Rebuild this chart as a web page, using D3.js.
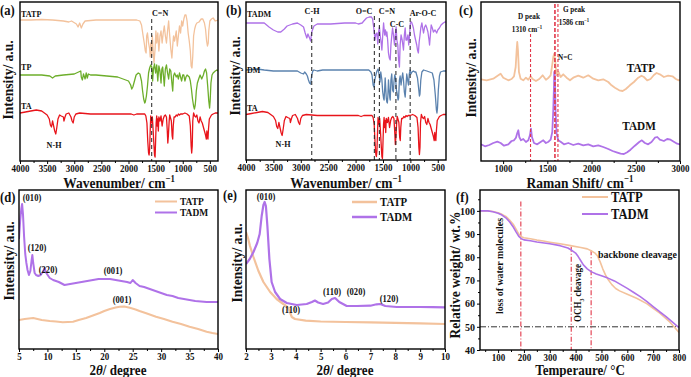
<!DOCTYPE html>
<html><head><meta charset="utf-8">
<script src="https://cdn.jsdelivr.net/npm/d3@7"></script>
<style>
body{margin:0;background:#fff}
svg{display:block}
text{font-family:"Liberation Serif","Times New Roman",serif;font-weight:bold}
</style></head>
<body><svg id="chart" width="691" height="377"></svg>
<script>
// ---------------- DATA ----------------
const ftirTicks = [4000,3500,3000,2500,2000,1500,1000,500];
const ftirMinor = [3750,3250,2750,2250,1750,1250,750];
const ramanTicks = [1000,1500,2000,2500,3000];
const ramanMinor = [1250,1750,2250,2750];
const xrdWideTicks = [5,10,15,20,25,30,35,40];
const xrdWideMinor = [7.5,12.5,17.5,22.5,27.5,32.5,37.5];
const xrdLowTicks = [2,3,4,5,6,7,8,9,10];
const xrdLowMinor = [2.5,3.5,4.5,5.5,6.5,7.5,8.5,9.5];
const tgaXTicks = [100,200,300,400,500,600,700,800];
const tgaXMinor = [50,150,250,350,450,550,650,750];
const tgaYTicks = [40,50,60,70,80,90,100];
const tgaYMinor = [45,55,65,75,85,95,105];

// FTIR (a): [wavenumber, intensity a.u.]
const ftirTATP = [[4000,141],[3800,141],[3600,141.5],[3400,141],[3200,140],[3100,139],[3050,140],[2960,137],[2930,134],[2900,138],[2870,133],[2840,137],[2800,140],[2600,141],[2400,141],[2200,141],[2000,141],[1850,141],[1790,140],[1760,136],[1730,125],[1710,118],[1690,110],[1675,108],[1665,125],[1650,128],[1630,118],[1610,112],[1600,104],[1590,118],[1575,105],[1560,125],[1545,110],[1530,98],[1510,112],[1495,130],[1480,118],[1460,128],[1440,110],[1420,125],[1400,130],[1380,118],[1360,128],[1340,135],[1320,125],[1300,118],[1280,130],[1260,140],[1240,125],[1220,112],[1200,103],[1185,115],[1170,125],[1150,120],[1120,130],[1100,115],[1080,125],[1060,135],[1040,128],[1020,140],[1000,135],[980,142],[960,146],[940,146],[920,140],[900,128],[880,120],[860,110],[845,95],[830,93],[815,105],[800,125],[780,132],[760,136],[740,138],[700,139],[660,142],[630,142],[600,138],[580,132],[560,120],[545,115],[530,118],[520,130],[500,140],[470,142],[440,143],[400,140],[350,141]];
const ftirTP = [[4000,86],[3800,86],[3600,86],[3450,85],[3400,83],[3350,85],[3200,86],[3000,87],[2920,89],[2880,90],[2870,84],[2850,81],[2830,87],[2800,82],[2780,88],[2760,83],[2740,87],[2700,86],[2600,86],[2400,85],[2200,84],[2100,82],[2000,80],[1960,76],[1940,72],[1920,74],[1900,78],[1860,86],[1820,88],[1790,87],[1760,80],[1740,70],[1720,62],[1700,58],[1690,59],[1670,65],[1650,75],[1630,88],[1610,93],[1590,96],[1570,94],[1555,80],[1540,92],[1520,97],[1500,88],[1480,96],[1460,80],[1440,95],[1420,90],[1400,78],[1385,92],[1370,94],[1355,85],[1340,75],[1320,92],[1300,96],[1280,88],[1260,82],[1240,92],[1220,90],[1200,78],[1185,70],[1170,85],[1150,88],[1120,84],[1100,86],[1080,82],[1060,88],[1040,84],[1020,80],[1000,86],[980,86],[960,80],[940,84],[920,86],[880,84],[860,80],[840,72],[820,62],[800,55],[785,52],[770,56],[760,62],[750,70],[730,78],[700,83],[680,86],[650,82],[620,86],[600,90],[580,92],[560,88],[540,75],[520,60],[505,53],[495,60],[480,78],[460,86],[440,88],[400,90],[370,91],[350,90]];
const ftirTA = [[4000,48],[3900,49],[3800,50],[3700,51],[3600,50],[3550,48],[3500,46],[3460,42],[3440,36],[3420,34],[3400,40],[3380,35],[3360,30],[3340,27],[3320,34],[3300,42],[3270,46],[3240,45],[3200,44],[3190,40],[3170,44],[3150,47],[3100,48],[3060,44],[3040,40],[3020,38],[3000,44],[2970,47],[2900,48],[2700,47],[2500,47],[2300,47],[2100,47],[1950,47],[1900,46],[1850,47],[1750,47],[1700,47],[1680,45],[1660,38],[1645,20],[1630,8],[1620,6],[1610,12],[1600,30],[1590,45],[1580,42],[1570,38],[1560,44],[1545,30],[1530,15],[1520,6],[1510,4],[1500,20],[1490,38],[1480,45],[1470,35],[1460,42],[1450,30],[1440,44],[1420,40],[1400,45],[1380,35],[1360,42],[1340,45],[1320,46],[1300,44],[1285,30],[1275,18],[1265,25],[1250,40],[1240,46],[1230,44],[1210,40],[1195,25],[1185,22],[1175,35],[1160,44],[1140,44],[1120,46],[1100,45],[1080,47],[1060,46],[1040,47],[1000,47],[960,48],[920,47],[880,45],[860,35],[845,15],[835,8],[825,15],[815,40],[800,48],[780,45],[760,44],[740,46],[720,40],[700,38],[680,44],[660,40],[640,38],[620,34],[600,30],[580,26],[565,22],[555,30],[545,24],[535,22],[525,32],[510,42],[490,44],[470,46],[440,47],[400,48],[350,48]];
// FTIR (b)
const ftirTADM = [[4000,137],[3800,137],[3667,137],[3580,133],[3500,130],[3420,128],[3365,128],[3300,131],[3250,134],[3150,136],[3062,137],[3000,135],[2950,133],[2920,127],[2890,122],[2870,126],[2840,122],[2820,119],[2800,128],[2760,134],[2700,136],[2457,136],[2200,137],[2000,137],[1950,136],[1880,137],[1850,139],[1800,142],[1750,143],[1710,143],[1690,141],[1675,135],[1660,128],[1645,120],[1630,126],[1610,127],[1595,116],[1580,128],[1565,133],[1550,124],[1535,118],[1520,110],[1505,125],[1489,137],[1470,125],[1455,130],[1440,124],[1429,128],[1415,120],[1400,107],[1385,102],[1368,100],[1355,115],[1340,124],[1325,132],[1308,125],[1290,115],[1275,125],[1260,133],[1247,120],[1230,115],[1215,100],[1200,93],[1187,115],[1170,125],[1150,120],[1126,110],[1110,125],[1095,132],[1080,120],[1066,120],[1045,125],[1030,115],[1015,125],[1000,137],[980,138],[960,135],[945,132],[925,125],[905,120],[884,115],[870,110],[854,107],[840,118],[824,125],[810,132],[790,137],[770,130],[760,127],[740,133],[720,135],[700,132],[680,128],[660,120],[650,115],[640,122],[620,135],[600,132],[580,128],[550,130],[520,127],[500,130],[470,132],[440,135],[400,137],[370,138],[350,138]];
const ftirDM = [[4000,90],[3800,91],[3667,90],[3500,89],[3365,89],[3200,89],[3062,89],[3000,87],[2950,86],[2930,88],[2900,86],[2880,84],[2860,80],[2840,77],[2820,76],[2800,85],[2780,89],[2760,90],[2700,89],[2600,90],[2400,90],[2200,90],[2000,90],[1850,90],[1760,90],[1720,88],[1700,85],[1680,75],[1665,73],[1650,80],[1630,85],[1610,89],[1590,91],[1570,85],[1555,78],[1540,88],[1520,80],[1505,68],[1490,62],[1480,60],[1470,70],[1460,82],[1450,72],[1440,62],[1430,58],[1420,57],[1410,65],[1400,80],[1390,72],[1375,62],[1368,60],[1355,80],[1340,86],[1325,70],[1310,68],[1300,78],[1285,85],[1270,82],[1255,70],[1240,66],[1225,60],[1215,62],[1200,80],[1187,84],[1170,75],[1155,82],[1140,87],[1126,80],[1110,68],[1095,63],[1080,75],[1066,86],[1050,80],[1035,75],[1020,86],[1005,90],[990,86],[970,88],[945,89],[920,88],[900,88],[870,82],[850,72],[835,64],[825,66],[810,80],[790,88],[760,90],[700,89],[650,88],[600,87],[570,80],[545,65],[525,50],[515,47],[505,52],[490,70],[470,84],[450,88],[400,89],[350,89]];
// Raman (c)
const ramanTATP = [[750,81.7],[814,80.7],[889,82.3],[946,85.7],[972,87.3],[1002,83.3],[1059,80.7],[1096,82],[1123,84.7],[1142,94],[1153,110.7],[1160,119],[1168,110.7],[1179,89],[1198,82.3],[1228,80.7],[1258,83.3],[1285,81.3],[1311,84.7],[1334,82],[1371,80],[1409,82],[1447,85.7],[1484,81.3],[1514,83.3],[1537,85.7],[1552,94],[1567,104],[1578,107.3],[1590,99],[1605,85.7],[1627,89],[1650,84],[1680,86.7],[1718,83.3],[1756,80.7],[1793,83.3],[1850,85.3],[1906,83.3],[1963,85.7],[2019,82.3],[2076,80.7],[2132,81.7],[2189,79],[2226,75.7],[2264,73.3],[2313,70.7],[2351,70],[2388,72],[2433,75.7],[2479,79],[2528,83.3],[2565,85.3],[2592,84],[2629,80.7],[2667,82],[2705,86],[2735,88],[2772,86.7],[2818,84],[2866,85.3],[2915,84.7],[2953,82],[2987,80.7],[3000,81.3]];
const ramanTADM = [[750,16.7],[795,14.7],[844,16],[889,18],[935,19.3],[972,18],[1010,15.3],[1059,16.7],[1096,20],[1123,20.7],[1145,23.3],[1160,28],[1172,30.7],[1183,24],[1202,20.7],[1228,22],[1258,19],[1285,20.7],[1303,25.7],[1315,32.3],[1326,24],[1349,18],[1386,16.7],[1424,19],[1454,20.7],[1484,18],[1514,19.3],[1537,21.3],[1556,29],[1567,50.7],[1575,74],[1578,89],[1586,84],[1593,50.7],[1605,27.3],[1624,20.7],[1650,19.3],[1688,16.7],[1737,18],[1793,16],[1850,17.3],[1906,15.7],[1963,16.7],[2019,14.7],[2076,15.7],[2132,14],[2189,12],[2238,10],[2283,8.7],[2328,7.3],[2366,7],[2403,8.7],[2441,11.3],[2490,15.3],[2539,19],[2569,20.7],[2603,18],[2640,16.7],[2678,19],[2716,23.3],[2743,24],[2772,21.3],[2818,20],[2855,22],[2893,21.3],[2930,19.3],[2968,17.3],[3000,16.7]];
// XRD (d) wide angle: [2theta, intensity]
const xrdWideTATP = [[5,29],[6,30],[7.5,31],[9,29],[10.4,28],[11.5,27.5],[12.7,26.7],[14.5,27.3],[15.5,29],[16.8,31],[18,33.5],[19.2,36],[20,38],[21,40],[22,41.5],[22.7,42.3],[23.5,42.5],[24.5,41.3],[25.5,39.5],[26.2,38],[27.5,35.5],[29.1,32.3],[30.5,30],[32,27.3],[33.5,25],[35,22.3],[36.5,20],[38,17.3],[39,16],[40,15]];
const xrdWideTADM = [[5,110],[5.2,128],[5.4,140],[5.55,145],[5.7,135],[5.9,112],[6.1,95],[6.3,86],[6.5,79],[6.75,74],[7,78],[7.2,88],[7.35,94],[7.5,86],[7.75,76],[8,74],[8.4,73],[8.8,74],[9.2,77],[9.5,81],[9.8,76],[10.4,71],[11,69],[12,67],[13,64],[14,65],[15,66],[16,67],[17,68],[18,69],[19,70],[20,70],[21,70],[22,69],[23,68],[24,67],[24.6,66],[25,69],[25.5,66],[26.2,63],[27,62],[28,60],[29,58],[30,56],[31,54],[32,53],[33,51],[34,50],[35,49],[36,48],[37,47.5],[38,47],[39,47],[40,47]];
// XRD (e) low angle
const xrdLowTATP = [[2,117],[2.08,111],[2.16,103],[2.3,92],[2.5,78],[2.7,67],[2.97,57],[3.23,50],[3.5,45],[3.62,43],[3.7,41],[3.78,36],[3.84,32],[3.97,30],[4.4,28.3],[5,27.5],[6,27],[7,26.7],[8,26.2],[9,25.7],[10,25]];
const xrdLowTADM = [[2,85],[2.15,90],[2.3,97],[2.45,106],[2.55,115],[2.63,133],[2.7,144],[2.75,147],[2.8,143],[2.86,123],[2.94,90],[3.03,67],[3.17,57],[3.37,50],[3.64,46],[4.04,44],[4.44,45],[4.65,47],[4.77,48.5],[4.9,46.5],[5.1,45],[5.3,46.5],[5.45,50],[5.58,51],[5.75,47],[6.05,43],[6.45,43],[7,43.3],[7.25,44.7],[7.4,45],[7.6,43],[8.06,42],[8.5,42],[9,42],[9.5,41.8],[10,41.7]];
// TGA (f): [temperature, wt%]
const tgaTATP = [[30,100],[60,100],[80,99.7],[100,99.2],[115,98.5],[130,97.6],[145,96],[160,94],[170,92],[180,90],[190,88.8],[200,88.4],[225,88],[250,87.4],[275,87],[300,86.5],[340,85.8],[380,85],[420,84.2],[445,83.6],[460,82.8],[475,81.8],[485,80.5],[495,78],[505,75],[515,72.5],[525,70.5],[540,68.2],[555,66.5],[570,65.5],[600,64],[636,62.3],[675,60],[700,58],[727,55.8],[750,53.5],[765,52],[785,49.5],[800,47.5]];
const tgaTADM = [[30,100],[60,100],[80,99.6],[100,99],[115,98.2],[130,97],[145,95.2],[160,92.8],[170,90.8],[180,89],[190,88],[200,87.5],[225,87.1],[250,86.6],[300,85.8],[340,85],[370,84],[385,83],[400,81.8],[410,80.3],[420,78.5],[430,76.7],[445,75],[460,73.8],[480,72.8],[500,72],[525,71],[550,69.8],[575,68.2],[600,66.6],[625,64.8],[650,63],[675,61],[700,58.7],[725,56.5],[750,54.4],[775,52],[800,49.6]];

const marksA = [1572];
const marksB = [2800,1658,1566,1264,1004];
const ramanMarks = [1310,1586,1620];
const tgaMarks = [188,383,460];
const tgaRef = 50;

// ---------------- DRAWING ----------------
const C = {TATP:"#F3C29C", TADM:"#AF72E8", TP:"#6DAE2B", DM:"#5B82AE", TA:"#E8141B", red:"#E2384A"};
const svg = d3.select('#chart');
const defs = svg.append('defs');
let clipN = 0;

function label(g, x, y, parts, size, o = {}) {
  const t = g.append('text')
    .attr('transform', `translate(${x},${y})` + (o.rot ? ` rotate(${o.rot})` : '') + ` scale(${o.sx || 0.9},1)`)
    .attr('font-size', size).attr('text-anchor', o.anchor || 'start').attr('fill', o.fill || '#111');
  if (typeof parts === 'string') parts = [{t: parts}];
  let shift = 0;
  parts.forEach(p => {
    const ts = t.append('tspan').text(p.t);
    let target = 0;
    if (p.sup) { ts.attr('font-size', size * 0.65); target = -size * 0.4; }
    if (p.sub) { ts.attr('font-size', size * 0.65); target = size * 0.25; }
    if (p.it) ts.attr('font-style', 'italic');
    if (target !== shift) { ts.attr('dy', target - shift); shift = target; }
  });
  return t;
}

function panel(o) {
  const g = svg.append('g');
  const x = d3.scaleLinear().domain(o.xd).range([o.l, o.r]);
  const y = d3.scaleLinear().domain(o.yd).range([o.b, o.t]);
  const id = 'clip' + (clipN++);
  defs.append('clipPath').attr('id', id).append('rect')
    .attr('x', o.l).attr('y', o.t).attr('width', o.r - o.l).attr('height', o.b - o.t);
  const plot = g.append('g').attr('clip-path', `url(#${id})`);
  return {g, plot, x, y, o};
}
function curve(p, data, color, w) {
  p.plot.append('path').datum(data)
    .attr('d', d3.line().x(d => p.x(d[0])).y(d => p.y(d[1])))
    .attr('fill', 'none').attr('stroke', color).attr('stroke-width', w || 1.3)
    .attr('stroke-linejoin', 'round');
}
function frame(p, major, minor) {
  const ax = d3.axisBottom(p.x).tickValues(major).tickSize(3).tickPadding(1).tickSizeOuter(0)
    .tickFormat(d3.format('d'));
  const ag = p.g.append('g').attr('transform', `translate(0,${p.o.b})`).call(ax);
  ag.select('.domain').remove();
  ag.selectAll('text').attr('font-size', 10).attr('fill', '#111').attr('transform', 'scale(0.9,1)');
  const mg = p.g.append('g').attr('transform', `translate(0,${p.o.b})`)
    .call(d3.axisBottom(p.x).tickValues(minor).tickSize(2).tickSizeOuter(0).tickFormat(''));
  mg.select('.domain').remove();
  p.g.append('rect').attr('x', p.o.l).attr('y', p.o.t)
    .attr('width', p.o.r - p.o.l).attr('height', p.o.b - p.o.t)
    .attr('fill', 'none').attr('stroke', '#000').attr('stroke-width', 1.4);
}
function vline(p, xv, yTop, color, w, dash) {
  p.plot.append('line').attr('x1', p.x(xv)).attr('x2', p.x(xv))
    .attr('y1', yTop).attr('y2', p.o.b)
    .attr('stroke', color).attr('stroke-width', w).attr('stroke-dasharray', dash);
}
const cm1 = (s) => [{t: s}, {t: '\u22121', sup: true}];
const TOPT = 188, BOTT = 375;

// ---- (a)
const A = panel({l:20, r:218, t:2, b:161, xd:[4000,350], yd:[0,159]});
curve(A, ftirTATP, C.TATP, 1.3);
curve(A, ftirTP, C.TP, 1.3);
curve(A, ftirTA, C.TA, 1.3);
marksA.forEach(m => vline(A, m, 19, '#222', 1, '4,3'));
frame(A, ftirTicks, ftirMinor);
label(svg, 21, 17, 'TATP', 9);
label(svg, 21, 70, 'TP', 9);
label(svg, 21, 109, 'TA', 9);
label(svg, 54, 148, 'N-H', 9, {anchor:'middle'});
label(svg, 152, 16, 'C=N', 9);
label(svg, 119, TOPT, cm1('Wavenumber/ cm'), 15, {anchor:'middle'});
label(svg, 13, 80, 'Intensity/ a.u.', 15, {anchor:'middle', rot:-90});
label(svg, 0, 15, '(a)', 14);

// ---- (b)
const B = panel({l:246, r:446, t:2, b:160, xd:[4000,350], yd:[0,158]});
curve(B, ftirTADM, C.TADM, 1.3);
curve(B, ftirDM, C.DM, 1.3);
curve(B, ftirTA.map(d => [d[0], d[1] - 2.5]), C.TA, 1.3);
const bTops = [18, 16, 18, 29, 18];
marksB.forEach((m, i) => vline(B, m, bTops[i], '#222', 1, '4,3'));
frame(B, ftirTicks, ftirMinor);
label(svg, 247, 17, 'TADM', 9);
label(svg, 247, 73, 'DM', 9);
label(svg, 247, 111, 'TA', 9);
label(svg, 283, 147, 'N-H', 9, {anchor:'middle'});
label(svg, 312, 14, 'C-H', 9, {anchor:'middle'});
label(svg, 364, 14, 'O=C', 9, {anchor:'middle'});
label(svg, 387, 14, 'C=N', 9, {anchor:'middle'});
label(svg, 397, 27, 'C-C', 9, {anchor:'middle'});
label(svg, 423, 16, 'Ar-O-C', 9, {anchor:'middle'});
label(svg, 346, TOPT, cm1('Wavenumber/ cm'), 15, {anchor:'middle'});
label(svg, 240, 76, 'Intensity/ a.u.', 15, {anchor:'middle', rot:-90});
label(svg, 226, 15, '(b)', 14);

// ---- (c)
const Cp = panel({l:481, r:680, t:2, b:161, xd:[750,3000], yd:[0,159]});
curve(Cp, ramanTATP, C.TATP, 1.8);
curve(Cp, ramanTADM, C.TADM, 1.8);
vline(Cp, ramanMarks[0], 34, C.red, 1.1, '3,2');
vline(Cp, ramanMarks[1], 4, C.red, 1.6, '4,2');
vline(Cp, ramanMarks[2], 4, C.red, 1.1, '3,2');
frame(Cp, ramanTicks, ramanMinor);
label(svg, 529, 19, 'D peak', 8, {anchor:'middle'});
label(svg, 527, 32, cm1('1310 cm'), 8, {anchor:'middle'});
label(svg, 574, 12, 'G peak', 8, {anchor:'middle'});
label(svg, 574, 25, cm1('1586 cm'), 8, {anchor:'middle'});
label(svg, 558, 60, 'N=C', 8);
label(svg, 641, 72, 'TATP', 12.5, {anchor:'middle'});
label(svg, 639, 130, 'TADM', 12.5, {anchor:'middle'});
label(svg, 580, TOPT, cm1('Raman Shift/ cm'), 15, {anchor:'middle'});
label(svg, 476, 78, 'Intensity/ a.u.', 15, {anchor:'middle', rot:-90});
label(svg, 459, 15, '(c)', 14);

// ---- (d)
const D = panel({l:19, r:218, t:190, b:349, xd:[5,40], yd:[0,159]});
curve(D, xrdWideTATP, C.TATP, 2);
curve(D, xrdWideTADM, C.TADM, 2);
frame(D, xrdWideTicks, xrdWideMinor);
label(svg, 32, 201, '(010)', 9.5, {anchor:'middle'});
label(svg, 37, 251, '(120)', 9.5, {anchor:'middle'});
label(svg, 48, 273, '(220)', 9.5, {anchor:'middle'});
label(svg, 113, 274, '(001)', 9.5, {anchor:'middle'});
label(svg, 122, 303, '(001)', 9.5, {anchor:'middle'});
svg.append('line').attr('x1',155).attr('x2',177).attr('y1',201.5).attr('y2',201.5).attr('stroke',C.TATP).attr('stroke-width',2);
svg.append('line').attr('x1',155).attr('x2',177).attr('y1',212.5).attr('y2',212.5).attr('stroke',C.TADM).attr('stroke-width',2);
label(svg, 180, 205, 'TATP', 10.5);
label(svg, 180, 216, 'TADM', 10.5);
label(svg, 118, BOTT, [{t:'2'},{t:'\u03b8', it:true},{t:'/ degree'}], 14.5, {anchor:'middle'});
label(svg, 14, 261, 'Intensity/ a.u.', 15, {anchor:'middle', rot:-90});
label(svg, 0, 202, '(d)', 14);

// ---- (e)
const E = panel({l:246, r:445, t:190, b:349, xd:[2,10], yd:[0,159]});
curve(E, xrdLowTATP, C.TATP, 2.2);
curve(E, xrdLowTADM, C.TADM, 2.2);
frame(E, xrdLowTicks, xrdLowMinor);
label(svg, 266, 200, '(010)', 9.5, {anchor:'middle'});
label(svg, 332, 295, '(110)', 9.5, {anchor:'middle'});
label(svg, 356, 295, '(020)', 9.5, {anchor:'middle'});
label(svg, 389, 302, '(120)', 9.5, {anchor:'middle'});
label(svg, 291, 313, '(110)', 9.5, {anchor:'middle'});
svg.append('line').attr('x1',352).attr('x2',377).attr('y1',202).attr('y2',202).attr('stroke',C.TATP).attr('stroke-width',2.5);
svg.append('line').attr('x1',352).attr('x2',377).attr('y1',217).attr('y2',217).attr('stroke',C.TADM).attr('stroke-width',2.5);
label(svg, 380, 206, 'TATP', 12);
label(svg, 380, 221, 'TADM', 12);
label(svg, 345, BOTT, [{t:'2'},{t:'\u03b8', it:true},{t:'/ degree'}], 14.5, {anchor:'middle'});
label(svg, 242, 263, 'Intensity/ a.u.', 15, {anchor:'middle', rot:-90});
label(svg, 223, 200, '(e)', 14);

// ---- (f)
const F = panel({l:480, r:679, t:190, b:350, xd:[30,800], yd:[40,109]});
F.plot.append('line').attr('x1', F.o.l).attr('x2', F.o.r).attr('y1', F.y(tgaRef)).attr('y2', F.y(tgaRef))
  .attr('stroke', '#333').attr('stroke-width', 1).attr('stroke-dasharray', '6,2,1,2');
const fTops = [104, 84.5, 83];
tgaMarks.forEach((m, i) => vline(F, m, F.y(fTops[i]), C.red, 1.1, '5,2,1,2'));
curve(F, tgaTATP, C.TATP, 1.6);
curve(F, tgaTADM, C.TADM, 1.6);
frame(F, tgaXTicks, tgaXMinor);
const yax = F.g.append('g').attr('transform', `translate(${F.o.l},0)`)
  .call(d3.axisLeft(F.y).tickValues(tgaYTicks).tickSize(3).tickPadding(2).tickSizeOuter(0).tickFormat(d3.format('d')));
yax.select('.domain').remove();
yax.selectAll('text').attr('font-size', 10).attr('fill', '#111');
const ymg = F.g.append('g').attr('transform', `translate(${F.o.l},0)`)
  .call(d3.axisLeft(F.y).tickValues(tgaYMinor).tickSize(2).tickSizeOuter(0).tickFormat(''));
ymg.select('.domain').remove();
svg.append('line').attr('x1',582).attr('x2',608).attr('y1',197).attr('y2',197).attr('stroke',C.TATP).attr('stroke-width',2);
svg.append('line').attr('x1',582).attr('x2',608).attr('y1',214).attr('y2',214).attr('stroke',C.TADM).attr('stroke-width',2);
label(svg, 611, 202, 'TATP', 14);
label(svg, 611, 219, 'TADM', 14);
label(svg, 503, 266, 'loss of water molecules', 11, {anchor:'middle', rot:-90});
label(svg, 581, 293, [{t:'OCH'},{t:'3', sub:true},{t:' cleavage'}], 10, {anchor:'middle', rot:-90});
label(svg, 598, 258, 'backbone cleavage', 11);
label(svg, 580, BOTT, 'Temperaure/ \u00b0C', 14.5, {anchor:'middle'});
label(svg, 460, 275, 'Relative weight/ wt.%', 15, {anchor:'middle', rot:-90});
label(svg, 456, 202, '(f)', 14);
</script></body></html>
